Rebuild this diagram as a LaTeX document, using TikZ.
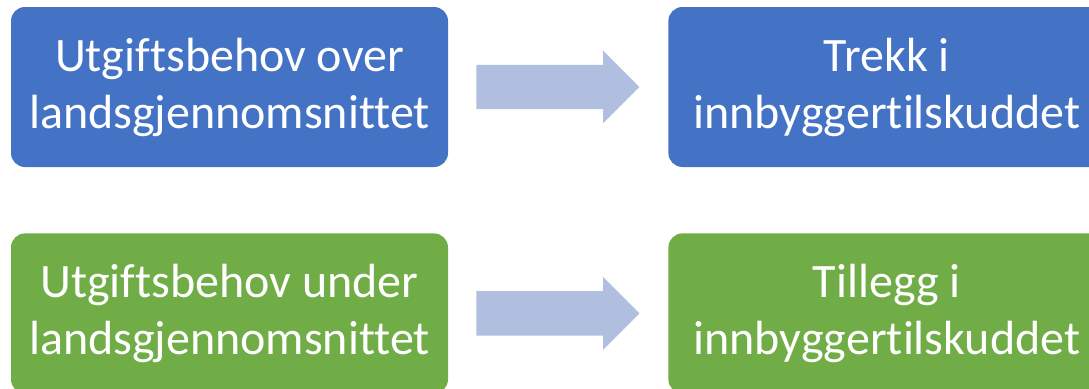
\documentclass[tikz,border=0pt]{standalone}
\usepackage{fontspec}
\setmainfont{Carlito}[Ligatures=NoCommon]
\usetikzlibrary{positioning,shapes.arrows,calc}
\definecolor{boksblaa}{HTML}{4472C4}
\definecolor{boksgronn}{HTML}{70AD47}
\definecolor{pilfarge}{HTML}{B0BEE0}
\tikzset{
  boks/.style={rounded corners=14pt,minimum width=437pt,minimum height=160pt,
    text=white,align=center,inner sep=0pt,
    font=\fontsize{48}{57}\selectfont},
  pil/.style={single arrow,fill=pilfarge,draw=none,inner xsep=0pt,inner ysep=22pt,
    minimum height=163pt,anchor=tail,
    single arrow head extend=14pt,single arrow tip angle=90}
}
\begin{document}
\begin{tikzpicture}[x=1pt,y=-1pt]
  \useasboundingbox (0,0) rectangle (1089,388);
  \node[boks,fill=boksblaa](over) at (229.5,87) {Utgiftsbehov over\\landsgjennomsnittet};
  \node[boks,fill=boksblaa,right=220pt of over](trekk) {Trekk i\\innbyggertilskuddet};
  \node[boks,fill=boksgronn,below=66pt of over](under) {Utgiftsbehov under\\landsgjennomsnittet};
  \node[boks,fill=boksgronn,right=220pt of under](tillegg) {Tillegg i\\innbyggertilskuddet};
  % piler mellom boksene
  \node[pil](pil1) at ($(over.east)+(28,0)$) {};
  \node[pil](pil2) at ($(under.east)+(28,0)$) {};
\end{tikzpicture}
\end{document}
